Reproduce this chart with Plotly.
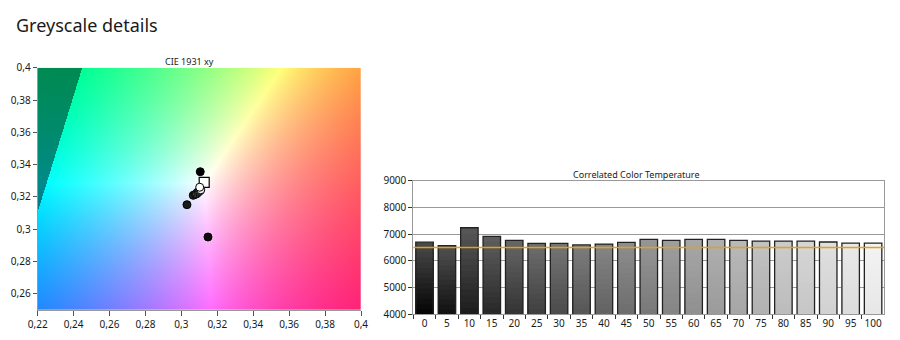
import numpy as np
import plotly.graph_objects as go

# ---------------- data ----------------
title_text = "Greyscale details"
cie_title = "CIE 1931 xy"
cct_title = "Correlated Color Temperature"

levels = [0, 5, 10, 15, 20, 25, 30, 35, 40, 45, 50, 55, 60, 65, 70, 75, 80, 85, 90, 95, 100]
level_labels = [str(v) for v in levels]
cct_values = [6700, 6570, 7240, 6920, 6770, 6655, 6655, 6595, 6630, 6695, 6805,
              6770, 6805, 6805, 6770, 6740, 6740, 6740, 6705, 6665, 6665]
target_cct = 6500

cie_x = [0.3105, 0.3148, 0.3031, 0.3066, 0.3078, 0.3086, 0.3090, 0.3094, 0.3092, 0.3088,
         0.3084, 0.3086, 0.3084, 0.3085, 0.3090, 0.3094, 0.3098, 0.3101, 0.3105, 0.3108, 0.3102]
cie_y = [0.3356, 0.2952, 0.3152, 0.3210, 0.3216, 0.3224, 0.3228, 0.3231, 0.3230, 0.3226,
         0.3220, 0.3222, 0.3220, 0.3221, 0.3226, 0.3230, 0.3234, 0.3237, 0.3240, 0.3244, 0.3260]
target_x = 0.3127
target_y = 0.3290

cie_xticks = [0.22, 0.24, 0.26, 0.28, 0.30, 0.32, 0.34, 0.36, 0.38, 0.40]
cie_xticktext = ["0,22", "0,24", "0,26", "0,28", "0,3", "0,32", "0,34", "0,36", "0,38", "0,4"]
cie_yticks = [0.26, 0.28, 0.30, 0.32, 0.34, 0.36, 0.38, 0.40]
cie_yticktext = ["0,26", "0,28", "0,3", "0,32", "0,34", "0,36", "0,38", "0,4"]
cie_xrange = [0.22, 0.40]
cie_yrange = [0.25, 0.40]
cct_yticks = [4000, 5000, 6000, 7000, 8000, 9000]
cct_yrange = [4000, 9000]

W, H = 900, 340
FONT = "Noto Sans"
TXT = "#1a1a1a"

# ---------------- chromaticity background ----------------
nx, ny = 646, 484
dx = (cie_xrange[1] - cie_xrange[0]) / nx
dy = (cie_yrange[1] - cie_yrange[0]) / ny
xs = cie_xrange[0] + dx * (np.arange(nx) + 0.5)
ys = cie_yrange[0] + dy * (np.arange(ny) + 0.5)
XX, YY = np.meshgrid(xs, ys)
X = XX / YY
Y = np.ones_like(XX)
Z = (1 - XX - YY) / YY
M = np.array([[3.2406, -1.5372, -0.4986],
              [-0.9689, 1.8758, 0.0415],
              [0.0557, -0.2040, 1.0570]])
lin = np.einsum("ij,jkl->ikl", M, np.stack([X, Y, Z]))
out = lin.min(axis=0) < 0
lin = np.clip(lin, 0, None)
lin = lin / lin.max(axis=0, keepdims=True)
lin[:, out] *= 0.54
img = np.round(np.moveaxis(lin, 0, -1) * 255).astype(int)

fig = go.Figure()
fig.add_trace(go.Image(z=img.tolist(), x0=xs[0], y0=ys[0], dx=dx, dy=dy,
                       xaxis="x", yaxis="y", hoverinfo="skip"))

# target white point
fig.add_trace(go.Scatter(x=[target_x], y=[target_y], mode="markers", xaxis="x", yaxis="y",
                         marker=dict(symbol="square", size=10, color="white",
                                     line=dict(color="black", width=1.2)),
                         hoverinfo="skip", showlegend=False))
# measured points coloured by grey level
pt_colors = ["rgb({0},{0},{0})".format(int(round(l * 2.55))) for l in levels]
fig.add_trace(go.Scatter(x=cie_x, y=cie_y, mode="markers", xaxis="x", yaxis="y",
                         marker=dict(size=8, color=pt_colors, line=dict(color="black", width=1)),
                         hoverinfo="skip", showlegend=False))

# ---------------- CCT bars with vertical gradient ----------------
N = 14
base_grey = [32 + l * 2.05 for l in levels]
top_off = [6 + 34 * (1 - l / 100) ** 2 for l in levels]
bot_off = [6 + 20 * (1 - l / 100) ** 1.5 for l in levels]
bar_w = 0.78
for k in range(N):
    frac = (N - k) / N  # bar covers from axis bottom up to this fraction
    heights = [(v - cct_yrange[0]) * frac for v in cct_values]
    t = 1 - k / (N - 1)
    cols = []
    for g, a, b in zip(base_grey, top_off, bot_off):
        c = (g - b) + (a + b) * t
        c = int(max(0, min(255, round(c))))
        cols.append("rgb({0},{0},{0})".format(c))
    fig.add_trace(go.Bar(x=level_labels, y=heights, base=[cct_yrange[0]] * len(levels),
                         xaxis="x2", yaxis="y2", width=bar_w,
                         marker=dict(color=cols, line=dict(width=0)),
                         hoverinfo="skip", showlegend=False))
fig.add_trace(go.Bar(x=level_labels, y=cct_values, base=[0] * len(levels),
                     xaxis="x2", yaxis="y2", width=bar_w,
                     marker=dict(color="rgba(0,0,0,0)", line=dict(color="#222222", width=1.3)),
                     hoverinfo="skip", showlegend=False))

# ---------------- layout ----------------
def fx(px):
    return px / W

def fy(py):
    return 1 - py / H

tickfont = dict(family=FONT, size=10, color=TXT)
fig.update_layout(
    width=W, height=H, margin=dict(l=0, r=0, t=0, b=0, autoexpand=False),
    paper_bgcolor="white", plot_bgcolor="white",
    barmode="overlay", showlegend=False,
    xaxis=dict(domain=[fx(37.7), fx(361)], range=cie_xrange, autorange=False, automargin=False,
               tickvals=cie_xticks, ticktext=cie_xticktext, tickfont=tickfont, tickangle=0,
               ticks="outside", ticklen=5, tickcolor="#555", showgrid=False, zeroline=False,
               showline=True, linecolor="#999", linewidth=1, constrain="domain"),
    yaxis=dict(domain=[fy(310), fy(67.7)], range=cie_yrange, autorange=False, automargin=False,
               tickvals=cie_yticks, ticktext=cie_yticktext, tickfont=tickfont,
               ticks="outside", ticklen=4, tickcolor="#555", showgrid=False, zeroline=False,
               showline=True, linecolor="#999", linewidth=1, scaleanchor=False),
    xaxis2=dict(domain=[fx(413.3), fx(884.3)], type="category", range=[-0.5, len(levels) - 0.5],
                autorange=False, automargin=False, tickson="boundaries", ticks="outside",
                ticklen=4, tickangle=0,
                tickcolor="#333", tickfont=tickfont, showgrid=False, zeroline=False,
                showline=True, mirror=True, linecolor="#999", linewidth=1, anchor="y2"),
    yaxis2=dict(domain=[fy(314.3), fy(180.7)], range=cct_yrange, autorange=False, automargin=False,
                tickvals=cct_yticks, tickfont=tickfont, ticks="outside", ticklen=4,
                tickcolor="#333", showgrid=True, gridcolor="#999", gridwidth=1,
                zeroline=False, showline=True, mirror=True, linecolor="#999", linewidth=1,
                anchor="x2"),
    shapes=[dict(type="line", xref="x2 domain", x0=0, x1=1, yref="y2",
                 y0=target_cct, y1=target_cct, line=dict(color="#e8a010", width=1.3),
                 layer="above")],
    annotations=[
        dict(text=title_text, xref="paper", yref="paper", x=fx(14), y=fy(25),
             xanchor="left", yanchor="middle", showarrow=False,
             font=dict(family=FONT, size=18, color=TXT)),
        dict(text=cie_title, xref="paper", yref="paper", x=fx(189), y=fy(61.5),
             xanchor="center", yanchor="middle", showarrow=False,
             font=dict(family=FONT, size=9, color=TXT)),
        dict(text=cct_title, xref="paper", yref="paper", x=fx(636), y=fy(174),
             xanchor="center", yanchor="middle", showarrow=False,
             font=dict(family=FONT, size=9, color=TXT)),
    ],
)

fig.write_html("out.html")
